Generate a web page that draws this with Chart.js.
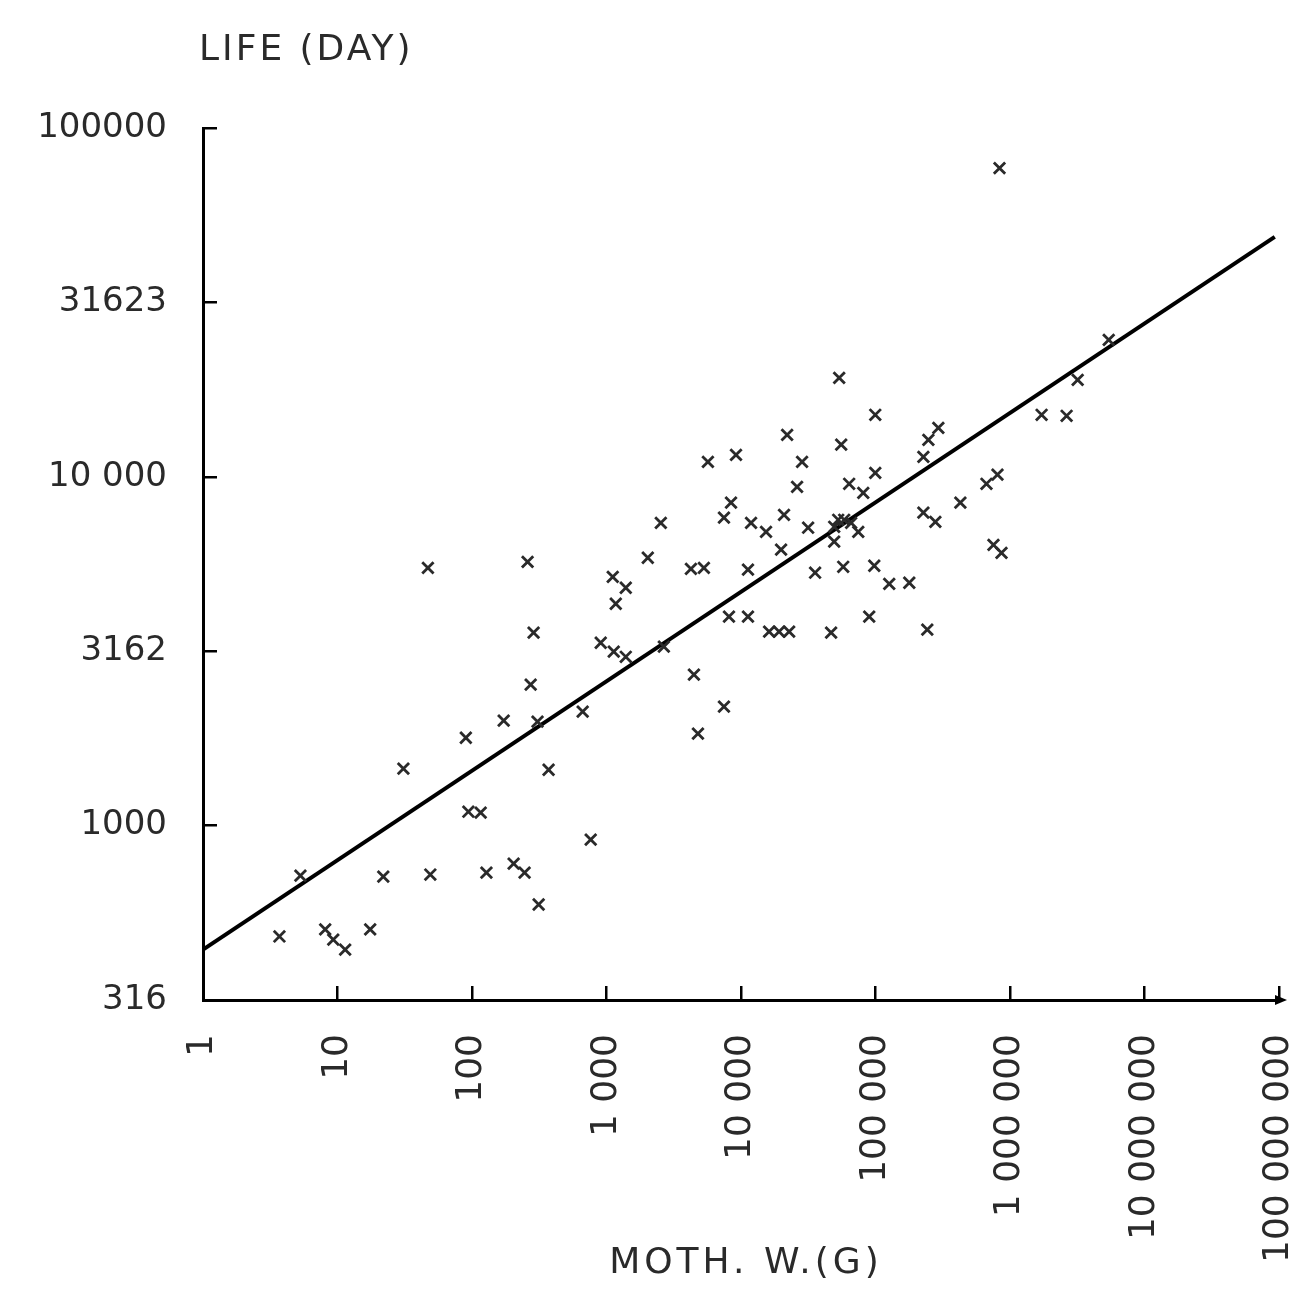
<!DOCTYPE html>
<html><head><meta charset="utf-8">
<script src="https://cdn.jsdelivr.net/npm/chart.js@4"></script>
<style>html,body{margin:0;padding:0;background:#fff}#wrap{width:1291px;height:1306px;position:relative}</style>
</head><body><div id="wrap"><canvas id="c"></canvas></div>
<script>
// Mother's weight (g) and life span (days)
const mothWeight = [3.7,5.3,8.1,9.3,11.4,17.5,21.9,30.9,49,47,
  90,94,116,128,172,204,246,259,273,287,
  307,313,371,665,763,906,1113,1172,1391,1132,
  1391,2028,2535,2669,4244,5297,4467,4786,5675,7470,
  9180,8430,7470,11880,15350,8140,11270,11270,16180,19190,
  22800,20890,22030,19860,28450,26120,31550,35560,46770,53700,
  55590,57540,49300,52800,58500,65900,49300,74440,63700,81100,
  89800,97900,99600,99600,126500,178300,227000,247200,293300,227000,
  278600,242700,427600,668300,807000,753400,864500,835600,1718000,2636000,
  3185000,5420000];
const lifeDays = [481,719,504,471,441,504,714,1456,724,5483,
  1786,1096,1089,733,2000,778,733,5702,2535,3573,
  1986,594,1446,2123,912,3344,5166,4325,4808,3152,
  3048,5861,7379,3258,5445,5483,2710,1836,11040,2193,
  11560,8430,7638,7379,6950,3972,3972,5420,3597,3597,
  3597,7780,13190,6180,11040,9360,7145,5309,3573,19220,
  12360,5521,7190,7530,7530,7379,6516,6950,9550,8995,
  3972,5559,15060,10260,4934,4969,11400,12760,13810,7890,
  7430,3648,8430,9550,10140,6383,6053,76770,15060,14960,
  18970,24700];
// Regression line end points
const fitWeight = [1, 9.3e7];
const fitLife = [441, 48750];
// Axis ticks
const xTickValues = [1,10,100,1e3,1e4,1e5,1e6,1e7,1e8];
const xTickLabels = ['1','10','100','1 000','10 000','100 000','1 000 000','10 000 000','100 000 000'];
const yTickValues = [316.23,1000,3162.3,10000,31623,100000];
const yTickLabels = ['316','1000','3162','10 000','31623','100000'];
const yTitle = 'LIFE (DAY)';
const xTitle = 'MOTH. W.(G)';

const TXT = '#2a2a2a';
const FONT = 'DejaVu Sans';

const scatterPts = mothWeight.map((w,i)=>({x:w,y:lifeDays[i]}));
const fitPts = fitWeight.map((w,i)=>({x:w,y:fitLife[i]}));

const decor = {
  id:'decor',
  afterDraw(chart){
    const ctx = chart.ctx, a = chart.chartArea;
    ctx.save();
    ctx.fillStyle = TXT;
    ctx.textBaseline = 'alphabetic';
    ctx.textAlign = 'left';
    ctx.font = '36px "' + FONT + '"';
    try{ ctx.letterSpacing = '3px'; }catch(e){}
    ctx.fillText(yTitle, a.left - 4, 60);
    ctx.textAlign = 'center';
    try{ ctx.letterSpacing = '4px'; }catch(e){}
    ctx.fillText(xTitle, (a.left + a.right)/2 + 5, 1273);
    try{ ctx.letterSpacing = '0px'; }catch(e){}
    // arrow at the end of x axis
    ctx.fillStyle = '#000';
    ctx.beginPath();
    ctx.moveTo(a.right + 8, a.bottom);
    ctx.lineTo(a.right - 4, a.bottom - 5);
    ctx.lineTo(a.right - 4, a.bottom + 5);
    ctx.closePath();
    ctx.fill();
    ctx.restore();
  }
};

new Chart(document.getElementById('c'), {
  type:'scatter',
  data:{datasets:[
    {label:'data', data:scatterPts, pointStyle:'crossRot', pointRadius:8, pointBorderWidth:2.8,
     borderColor:'#2a2a2a', backgroundColor:'#2a2a2a', showLine:false},
    {label:'fit', type:'line', data:fitPts, borderColor:'#000', borderWidth:4, pointRadius:0, fill:false, tension:0}
  ]},
  options:{
    responsive:true, maintainAspectRatio:false, animation:false,
    devicePixelRatio:1,
    layout:{padding:{left:0,right:12,top:128,bottom:0}},
    plugins:{legend:{display:false}, tooltip:{enabled:false}},
    scales:{
      x:{type:'logarithmic', min:1, max:1e8,
        afterBuildTicks(s){ s.ticks = xTickValues.map(v=>({value:v})); },
        afterFit(s){ s.height = 306; s.paddingLeft = 0; s.paddingRight = 0; },
        ticks:{autoSkip:false, minRotation:90, maxRotation:90, padding:48, color:TXT,
          font:{family:FONT, size:36},
          callback:(v,i)=>xTickLabels[i]},
        grid:{drawOnChartArea:false, drawTicks:true, tickLength:-14, color:'#000', lineWidth:2.5},
        border:{display:true, color:'#000', width:3}
      },
      y:{type:'logarithmic', min:316.23, max:100000,
        afterBuildTicks(s){ s.ticks = yTickValues.map(v=>({value:v})); },
        afterFit(s){ s.width = 203; s.paddingTop = 0; s.paddingBottom = 0; },
        ticks:{autoSkip:false, padding:50, color:TXT, font:{family:FONT, size:34},
          callback:(v,i)=>yTickLabels[i]},
        grid:{drawOnChartArea:false, drawTicks:true, tickLength:-14, color:'#000', lineWidth:2.5},
        border:{display:true, color:'#000', width:3}
      }
    }
  },
  plugins:[decor]
});
</script>
</body></html>
